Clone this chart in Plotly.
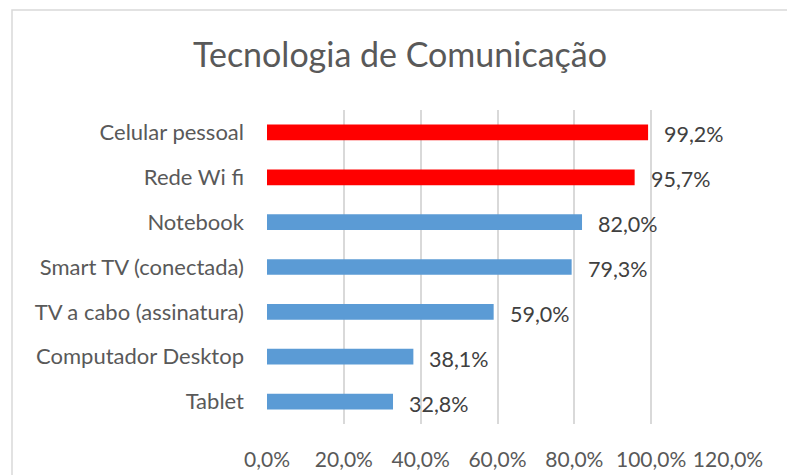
import plotly.graph_objects as go

categories = ["Celular pessoal", "Rede Wi fi", "Notebook", "Smart TV (conectada)",
              "TV a cabo (assinatura)", "Computador Desktop", "Tablet"]
values = [0.992, 0.957, 0.820, 0.793, 0.590, 0.381, 0.328]
labels = ["99,2%", "95,7%", "82,0%", "79,3%", "59,0%", "38,1%", "32,8%"]
highlight = [True, True, False, False, False, False, False]
tick_vals = [0, 0.2, 0.4, 0.6, 0.8, 1.0, 1.2]
tick_text = ["0,0%", "20,0%", "40,0%", "60,0%", "80,0%", "100,0%", "120,0%"]
title_text = "Tecnologia de Comunicação"

# page body has an 8px margin; layout coordinates are offset accordingly
W, H = 787, 467
L, R, T, B = 259, 67, 102, 51
PW, PH = W - L - R, H - T - B
FONT = "Lato, Carlito, sans-serif"

def px(x):
    return (x - L) / PW

def py(y):
    return (H - B - y) / PH

colors = ["#FF0000" if h else "#5B9BD5" for h in highlight]

fig = go.Figure(go.Bar(
    x=values, y=categories, orientation="h",
    marker=dict(color=colors, line=dict(width=0)),
    width=0.35, hoverinfo="skip",
))

for c, v, t in zip(categories, values, labels):
    fig.add_annotation(x=v, y=c, xref="x", yref="y", text=t, showarrow=False,
                       xanchor="left", xshift=14, yshift=-2,
                       font=dict(family=FONT, size=21.5, color="#404040"))

shapes = [dict(type="rect", xref="paper", yref="paper",
               x0=px(4), x1=px(784), y0=py(480), y1=py(2),
               line=dict(color="#D9D9D9", width=1.5), fillcolor="rgba(0,0,0,0)", layer="below")]

fig.update_layout(
    width=W, height=H,
    margin=dict(l=L, r=R, t=T, b=B, autoexpand=False),
    paper_bgcolor="white", plot_bgcolor="white",
    showlegend=False,
    title=dict(text=title_text, x=(400 - 8) / W, xanchor="center", y=(H - 47) / H, yanchor="middle",
               yref="container",
               font=dict(family=FONT, size=34, color="#595959")),
    xaxis=dict(range=[0, 1.2], tickvals=tick_vals, ticktext=tick_text, automargin=False,
               showgrid=True, gridcolor="#D9D9D9", gridwidth=1.5, zeroline=False,
               showline=False, ticks="", fixedrange=True, ticklabelstandoff=21,
               tickfont=dict(family=FONT, size=21, color="#595959")),
    yaxis=dict(autorange="reversed", showgrid=False, zeroline=False, ticks="", automargin=False,
               showline=False, ticklabelstandoff=22,
               tickfont=dict(family=FONT, size=22, color="#595959")),
    shapes=shapes,
)
fig.write_html("out.html")
